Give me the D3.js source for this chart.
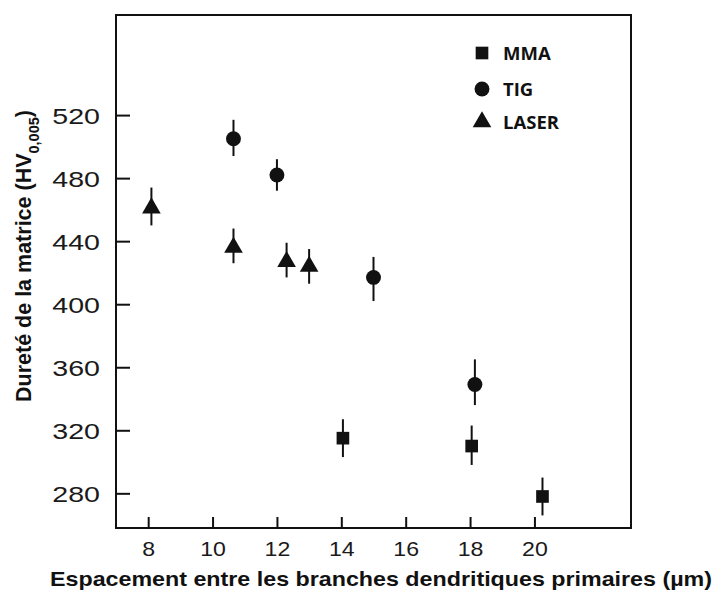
<!DOCTYPE html>
<html>
<head>
<meta charset="utf-8">
<script src="https://cdn.jsdelivr.net/npm/d3@7"></script>
<style>
  body { margin: 0; background: #fff; }
  svg { display: block; }
  .axis text { font-family: "Liberation Sans", Arial, sans-serif; fill: #1a1a1a; }
  .title { font-family: "Liberation Sans", Arial, sans-serif; font-weight: bold; fill: #111; }
  .legend text { font-family: "Open Sans", sans-serif; font-weight: bold; fill: #111; }
</style>
</head>
<body>
<svg width="722" height="594"></svg>
<script>
// values
xTicks = [8, 10, 12, 14, 16, 18, 20];
yTicks = [280, 320, 360, 400, 440, 480, 520];

mmaX  = [14.05, 18.05, 20.25];
mmaY  = [315, 310, 278];
mmaLo = [303, 298, 266];
mmaHi = [327, 323, 290];

tigX  = [10.65, 12.0, 15.0, 18.15];
tigY  = [505, 482, 417, 349];
tigLo = [494, 472, 402, 336];
tigHi = [517, 492, 430, 365];

laserX  = [8.1, 10.65, 12.3, 13.0];
laserY  = [461, 436, 427, 424];
laserLo = [450, 426, 417, 413];
laserHi = [474, 448, 439, 435];

legendNames = ["MMA", "TIG", "LASER"];

svg = d3.select("svg");
left = 116; right = 631; top_ = 15; bottom = 528;

xScale = d3.scaleLinear() // horizontal scale
  .domain([7, 23])
  .range([left, right]);

yScale = d3.scaleLinear() // vertical scale
  .domain([258, 583.5])
  .range([bottom, top_]);

// frame
svg.append("rect")
  .attr("x", left).attr("y", top_)
  .attr("width", right - left).attr("height", bottom - top_)
  .attr("fill", "none").attr("stroke", "#111").attr("stroke-width", 2);

// bottom axis, ticks pointing inward
gx = svg.append("g")
  .attr("class", "axis")
  .attr("transform", "translate(0," + bottom + ")")
  .call(d3.axisBottom(xScale).tickValues(xTicks).tickSizeInner(-11).tickSizeOuter(0));
gx.select(".domain").remove();
gx.selectAll("line").attr("stroke", "#111").attr("stroke-width", 2);
gx.selectAll("text")
  .attr("y", 0).attr("dy", null)
  .attr("transform", "translate(0,28) scale(1.1,1)")
  .attr("font-size", 21);

// left axis
gy = svg.append("g")
  .attr("class", "axis")
  .attr("transform", "translate(" + left + ",0)")
  .call(d3.axisLeft(yScale).tickValues(yTicks).tickSizeInner(-14).tickSizeOuter(0));
gy.select(".domain").remove();
gy.selectAll("line").attr("stroke", "#111").attr("stroke-width", 2);
gy.selectAll("text")
  .attr("x", 0).attr("dy", null)
  .attr("transform", "translate(-16,8) scale(1.3,1)")
  .attr("font-size", 22);

// axis titles
svg.append("text")
  .attr("class", "title")
  .attr("x", 381).attr("y", 586)
  .attr("text-anchor", "middle")
  .attr("font-size", 20.5)
  .attr("textLength", 662)
  .attr("lengthAdjust", "spacingAndGlyphs")
  .text("Espacement entre les branches dendritiques primaires (µm)");

ytitle = svg.append("text")
  .attr("class", "title")
  .attr("transform", "translate(31,256) rotate(-90)")
  .attr("text-anchor", "middle")
  .attr("font-size", 21.5)
  .text("Dureté de la matrice (HV");
ytitle.append("tspan").attr("baseline-shift", "sub").attr("font-size", 14.5).text("0,005");
ytitle.append("tspan").attr("baseline-shift", "baseline").text(")");

// series
series = [
  {x: mmaX, y: mmaY, lo: mmaLo, hi: mmaHi, sym: d3.symbolSquare, size: 160},
  {x: tigX, y: tigY, lo: tigLo, hi: tigHi, sym: d3.symbolCircle, size: 175},
  {x: laserX, y: laserY, lo: laserLo, hi: laserHi, sym: d3.symbolTriangle, size: 150}
];

series.forEach(function(s) {
  pts = s.x.map(function(d, i) { return {x: d, y: s.y[i], lo: s.lo[i], hi: s.hi[i]}; });
  g = svg.append("g");
  g.selectAll("line")
    .data(pts).enter().append("line")
    .attr("x1", function(d) { return xScale(d.x); })
    .attr("x2", function(d) { return xScale(d.x); })
    .attr("y1", function(d) { return yScale(d.lo); })
    .attr("y2", function(d) { return yScale(d.hi); })
    .attr("stroke", "#111").attr("stroke-width", 2);
  g.selectAll("path")
    .data(pts).enter().append("path")
    .attr("d", d3.symbol().type(s.sym).size(s.size))
    .attr("transform", function(d) { return "translate(" + xScale(d.x) + "," + yScale(d.y) + ")"; })
    .attr("fill", "#111");
});

// legend
leg = svg.append("g").attr("class", "legend").attr("transform", "translate(482,0)");
legendY = [53, 89, 122];
leg.selectAll("path")
  .data(series).enter().append("path")
  .attr("d", function(s) { return d3.symbol().type(s.sym).size(s.size)(); })
  .attr("transform", function(s, i) { return "translate(0," + legendY[i] + ")"; })
  .attr("fill", "#111");
leg.selectAll("text")
  .data(legendNames).enter().append("text")
  .attr("x", 21)
  .attr("y", function(d, i) { return legendY[i] + 7; })
  .attr("font-size", 18.5)
  .text(function(d) { return d; });
</script>
</body>
</html>
